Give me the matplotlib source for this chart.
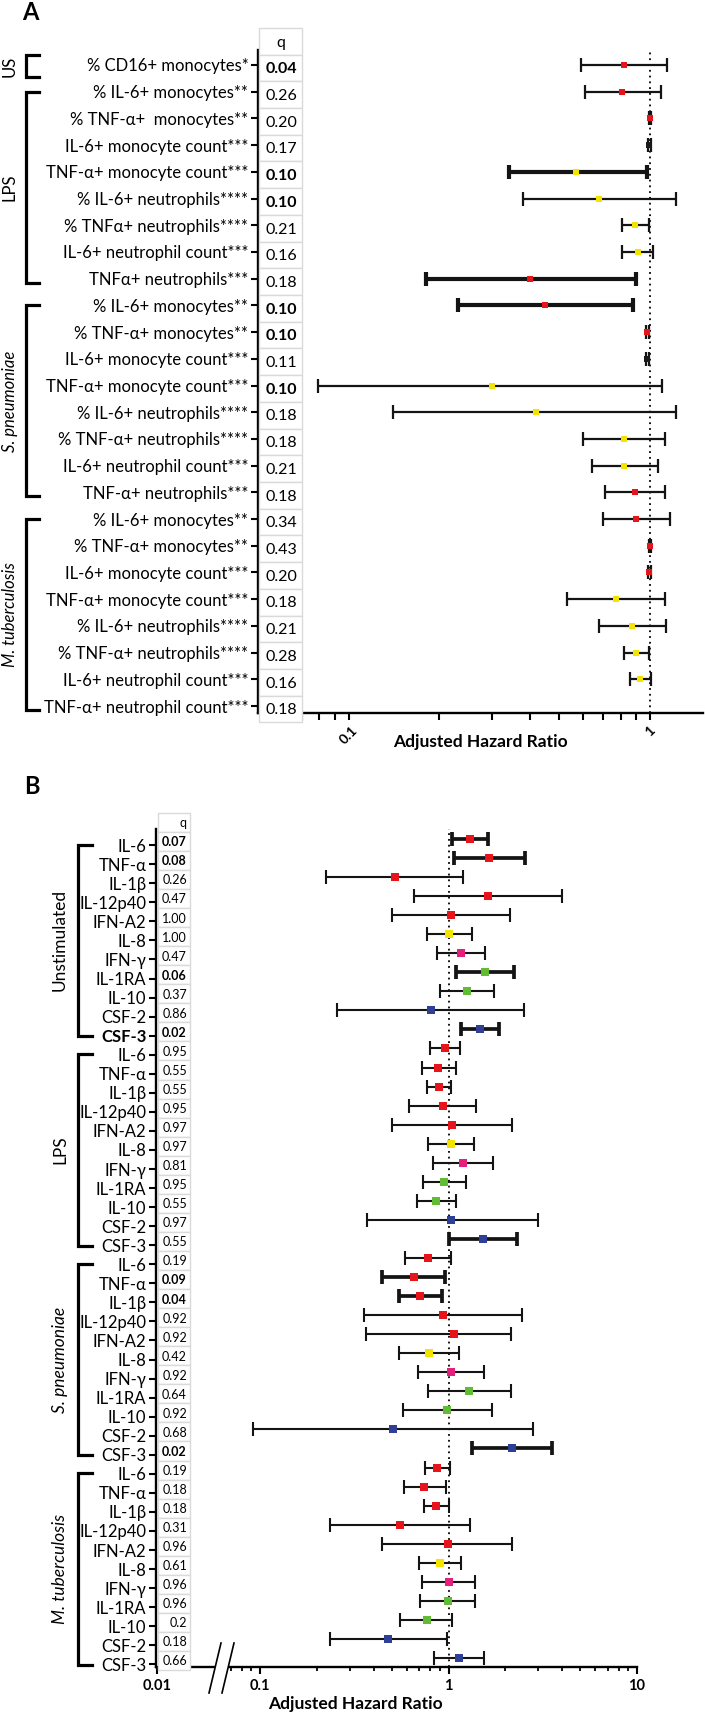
import numpy as np
import matplotlib
matplotlib.use("Agg")
import matplotlib.pyplot as plt
import matplotlib.transforms as mtransforms
from matplotlib.patches import Rectangle
from matplotlib.lines import Line2D
from matplotlib.ticker import FixedLocator, FixedFormatter, NullFormatter

plt.rcParams['font.family'] = ['Lato', 'DejaVu Sans']

W, H = 705, 1716  # figure size in pixels

# ---------------- panel A data ----------------
a_labels = ["% CD16+ monocytes*",
            "% IL-6+ monocytes**", "% TNF-α+  monocytes**", "IL-6+ monocyte count***",
            "TNF-α+ monocyte count***", "% IL-6+ neutrophils****", "% TNFα+ neutrophils****",
            "IL-6+ neutrophil count***", "TNFα+ neutrophils***",
            "% IL-6+ monocytes**", "% TNF-α+ monocytes**", "IL-6+ monocyte count***",
            "TNF-α+ monocyte count***", "% IL-6+ neutrophils****", "% TNF-α+ neutrophils****",
            "IL-6+ neutrophil count***", "TNF-α+ neutrophils***",
            "% IL-6+ monocytes**", "% TNF-α+ monocytes**", "IL-6+ monocyte count***",
            "TNF-α+ monocyte count***", "% IL-6+ neutrophils****", "% TNF-α+ neutrophils****",
            "IL-6+ neutrophil count***", "TNF-α+ neutrophil count***"]
a_q = ["0.04", "0.26", "0.20", "0.17", "0.10", "0.10", "0.21", "0.16", "0.18",
       "0.10", "0.10", "0.11", "0.10", "0.18", "0.18", "0.21", "0.18",
       "0.34", "0.43", "0.20", "0.18", "0.21", "0.28", "0.16", "0.18"]
a_hr = [0.82, 0.81, 1.00, 0.995, 0.57, 0.68, 0.89, 0.91, 0.40,
        0.45, 0.98, 0.98, 0.30, 0.42, 0.82, 0.82, 0.89,
        0.90, 1.00, 0.995, 0.77, 0.87, 0.90, 0.93, np.nan]
a_lo = [0.59, 0.61, 0.99, 0.985, 0.34, 0.38, 0.805, 0.81, 0.18,
        0.23, 0.97, 0.97, 0.079, 0.14, 0.60, 0.64, 0.71,
        0.70, 0.99, 0.985, 0.53, 0.68, 0.82, 0.86, np.nan]
a_hi = [1.14, 1.09, 1.01, 1.005, 0.98, 1.22, 0.99, 1.02, 0.90,
        0.88, 0.99, 0.99, 1.10, 1.22, 1.12, 1.06, 1.12,
        1.17, 1.01, 1.005, 1.12, 1.13, 0.99, 1.01, np.nan]
a_groups = [("US", 0, 0), ("LPS", 1, 8), ("S. pneumoniae", 9, 16), ("M. tuberculosis", 17, 24)]

# ---------------- panel B data ----------------
b_cytokines = ["IL-6", "TNF-α", "IL-1β", "IL-12p40", "IFN-A2", "IL-8",
               "IFN-γ", "IL-1RA", "IL-10", "CSF-2", "CSF-3"]
b_stimuli = ["Unstimulated", "LPS", "S. pneumoniae", "M. tuberculosis"]
b_q = ["0.07", "0.08", "0.26", "0.47", "1.00", "1.00", "0.47", "0.06", "0.37", "0.86", "0.02",
       "0.95", "0.55", "0.55", "0.95", "0.97", "0.97", "0.81", "0.95", "0.55", "0.97", "0.55",
       "0.19", "0.09", "0.04", "0.92", "0.92", "0.42", "0.92", "0.64", "0.92", "0.68", "0.02",
       "0.19", "0.18", "0.18", "0.31", "0.96", "0.61", "0.96", "0.96", "0.2", "0.18", "0.66"]
b_hr = [1.30, 1.64, 0.52, 1.62, 1.03, 1.01, 1.17, 1.57, 1.25, 0.81, 1.47,
        0.96, 0.88, 0.89, 0.93, 1.04, 1.03, 1.20, 0.95, 0.86, 1.03, 1.52,
        0.78, 0.655, 0.71, 0.94, 1.07, 0.79, 1.03, 1.28, 0.98, 0.51, 2.17,
        0.87, 0.74, 0.86, 0.555, 0.99, 0.90, 1.00, 0.99, 0.77, 0.48, 1.135]
b_lo = [1.045, 1.07, 0.224, 0.655, 0.50, 0.77, 0.87, 1.10, 0.90, 0.255, 1.16,
        0.80, 0.72, 0.77, 0.62, 0.50, 0.78, 0.83, 0.73, 0.68, 0.37, 1.00,
        0.59, 0.446, 0.546, 0.354, 0.366, 0.546, 0.69, 0.78, 0.57, 0.092, 1.33,
        0.747, 0.577, 0.739, 0.236, 0.446, 0.70, 0.727, 0.71, 0.555, 0.236, 0.834]
b_hi = [1.62, 2.55, 1.19, 4.02, 2.12, 1.33, 1.57, 2.23, 1.75, 2.52, 1.86,
        1.15, 1.09, 1.03, 1.40, 2.16, 1.36, 1.73, 1.24, 1.10, 2.97, 2.32,
        1.03, 0.96, 0.92, 2.46, 2.15, 1.14, 1.55, 2.14, 1.70, 2.81, 3.54,
        1.02, 0.97, 1.01, 1.30, 2.18, 1.17, 1.38, 1.39, 1.045, 0.98, 1.55]

# ---------------- styles ----------------
RED, YEL, BLK = '#e8141c', '#f2e400', '#1a1a1a'
PINK, GRN, BLU = '#e4207c', '#62bb35', '#2f3f96'
a_colors = [RED, RED, RED, BLK, YEL, YEL, YEL, YEL, RED,
            RED, RED, BLK, YEL, YEL, YEL, YEL, RED,
            RED, RED, RED, YEL, YEL, YEL, YEL, RED]
a_thick = [4, 8, 9]
b_cyto_colors = {"IL-6": RED, "TNF-α": RED, "IL-1β": RED, "IL-12p40": RED, "IFN-A2": RED,
                 "IL-8": YEL, "IFN-γ": PINK, "IL-1RA": GRN, "IL-10": GRN,
                 "CSF-2": BLU, "CSF-3": BLU}
b_thick = [0, 1, 7, 10, 21, 23, 24, 32]


def fx(px):
    return px / W


def fy(py):
    return 1 - py / H


def forest(ax, hr, lo, hi, colors, thick, lw, lw_thick, msize, capsize):
    for i in range(len(hr)):
        if np.isnan(hr[i]):
            continue
        w = lw_thick if i in thick else lw
        ax.errorbar([hr[i]], [i], xerr=[[hr[i] - lo[i]], [hi[i] - hr[i]]], fmt='none',
                    ecolor='#141414', elinewidth=w, capsize=capsize, capthick=w, zorder=3)
        ax.plot(hr[i], i, 's', color=colors[i], markersize=msize, markeredgewidth=0, zorder=4)
    ax.axvline(1, color='black', lw=1.3, ls=(0, (1, 2.2)), zorder=2)
    for s in ['top', 'right']:
        ax.spines[s].set_visible(False)
    for s in ['left', 'bottom']:
        ax.spines[s].set_linewidth(1.7)


def q_table(fig, ax, q, x0, x1, off, fsize, tx, ha):
    tr = mtransforms.blended_transform_factory(fig.transFigure, ax.transData)
    for i in range(-1, len(q)):
        fig.add_artist(Rectangle((fx(x0), i - 0.5 + off), fx(x1) - fx(x0), 1, transform=tr,
                                 facecolor='white', edgecolor='#dadada', lw=1, zorder=5))
        txt = 'q' if i < 0 else q[i]
        bold = i >= 0 and float(q[i]) <= 0.10
        fig.text(fx(tx), i + off + 0.05, txt, transform=tr, ha=ha, va='center', fontsize=fsize,
                 fontweight='bold' if bold else 'normal', zorder=6)


def brackets(fig, ax, groups, xv, xa, xl, top_off, bot_off, fsize):
    tr = mtransforms.blended_transform_factory(fig.transFigure, ax.transData)
    for name, first, last in groups:
        if first == last:
            y0, y1 = first - 0.37, last + 0.45
        else:
            y0, y1 = first + top_off, last + bot_off
        fig.add_artist(Line2D([fx(xa), fx(xv), fx(xv), fx(xa)], [y0, y0, y1, y1], transform=tr,
                              color='black', lw=2.3, solid_joinstyle='miter', zorder=5))
        style = 'italic' if '.' in name else 'normal'
        fig.text(fx(xl), (y0 + y1) / 2, name, transform=tr, rotation=90, ha='center', va='center',
                 fontsize=fsize, fontstyle=style)


fig = plt.figure(figsize=(W / 100, H / 100), dpi=100)
fig.patch.set_facecolor('white')

# ================= panel A =================
axA = fig.add_axes([fx(258), fy(713), fx(703) - fx(258), (713 - 50) / H])
forest(axA, a_hr, a_lo, a_hi, a_colors, a_thick, 1.6, 3.0, 4.2, 5)
axA.set_xscale('log')
axA.set_xlim(0.05, 1.5)
axA.set_ylim(24.26, -0.56)
axA.set_yticks(np.arange(len(a_labels)))
axA.set_yticklabels(a_labels, fontsize=12)
axA.tick_params(axis='y', length=5, width=1.5, pad=2)
axA.xaxis.set_major_locator(FixedLocator([0.1, 1]))
axA.xaxis.set_major_formatter(FixedFormatter(['0.1', '1']))
axA.xaxis.set_minor_locator(FixedLocator([0.06, 0.07, 0.08, 0.09] + [k / 10 for k in range(2, 10)]))
axA.xaxis.set_minor_formatter(NullFormatter())
axA.tick_params(axis='x', which='both', length=5, width=1.5, pad=3)
for t in axA.get_xticklabels():
    t.set_rotation(45)
    t.set_fontweight('bold')
    t.set_fontsize(10)
q_table(fig, axA, a_q, 259, 302, 0.11, 11.5, 281, 'center')
brackets(fig, axA, a_groups, 26, 39, 10, 0.0, 0.15, 12)
fig.text(fx(30), fy(12), "A", fontsize=17, fontweight='bold', ha='center', va='center')
fig.text(fx(480), fy(742), "Adjusted Hazard Ratio", fontsize=12.5, fontweight='bold',
         ha='center', va='center')

# ================= panel B =================
B_BREAK = 0.06
B_SQUEEZE = 0.418


def b_forward(x):
    lx = np.log10(np.clip(x, 1e-9, None))
    lb = np.log10(B_BREAK)
    return np.where(lx >= lb, lx, lb - B_SQUEEZE * (lb - lx))


def b_inverse(u):
    lb = np.log10(B_BREAK)
    return np.where(u >= lb, 10.0 ** u, 10.0 ** (lb - (lb - u) / B_SQUEEZE))


b_labels = [c for s in b_stimuli for c in b_cytokines]
b_colors = [b_cyto_colors[c] for c in b_labels]
n_c = len(b_cytokines)
b_groups = [(s, k * n_c, (k + 1) * n_c - 1) for k, s in enumerate(b_stimuli)]

axB = fig.add_axes([fx(156), fy(1667), fx(637) - fx(156), (1667 - 829) / H])
forest(axB, b_hr, b_lo, b_hi, b_colors, b_thick, 1.5, 2.7, 5.4, 5)
axB.set_xscale('function', functions=(b_forward, b_inverse))
axB.set_xlim(0.00973, 10)
axB.set_ylim(43.47, -0.52)
axB.set_yticks(np.arange(len(b_labels)) + 0.33)
axB.set_yticklabels(b_labels, fontsize=12)
axB.get_yticklabels()[n_c - 1].set_fontweight('bold')
axB.tick_params(axis='y', length=5, width=1.5, pad=2)
axB.xaxis.set_major_locator(FixedLocator([0.01, 0.1, 1, 10]))
axB.xaxis.set_major_formatter(FixedFormatter(['0.01', '0.1', '1', '10']))
axB.xaxis.set_minor_locator(FixedLocator([0.07, 0.08, 0.09] + [k / 10 for k in range(2, 10)]
                                         + list(range(2, 10))))
axB.xaxis.set_minor_formatter(NullFormatter())
axB.tick_params(axis='x', which='major', length=5, width=1.5, pad=4)
axB.tick_params(axis='x', which='minor', length=3, width=1.3)
for t in axB.get_xticklabels():
    t.set_fontweight('bold')
    t.set_fontsize(10.5)
q_table(fig, axB, b_q, 158, 190, 0.13, 9, 187, 'right')
brackets(fig, axB, b_groups, 78, 92, 60, 0.3, 0.35, 12.5)

# axis break marks
fig.add_artist(Rectangle((fx(215), fy(1670)), fx(228) - fx(215), 6 / H, facecolor='white',
                         edgecolor='none', zorder=7))
for x0, x1 in [(209, 221), (222, 234)]:
    fig.add_artist(Line2D([fx(x0), fx(x1)], [fy(1693), fy(1643)], color='black', lw=1.2, zorder=8))

fig.text(fx(32), fy(786), "B", fontsize=17, fontweight='bold', ha='center', va='center')
fig.text(fx(355), fy(1704), "Adjusted Hazard Ratio", fontsize=12.5, fontweight='bold',
         ha='center', va='center')

fig.savefig("out.png", dpi=100, facecolor='white')
